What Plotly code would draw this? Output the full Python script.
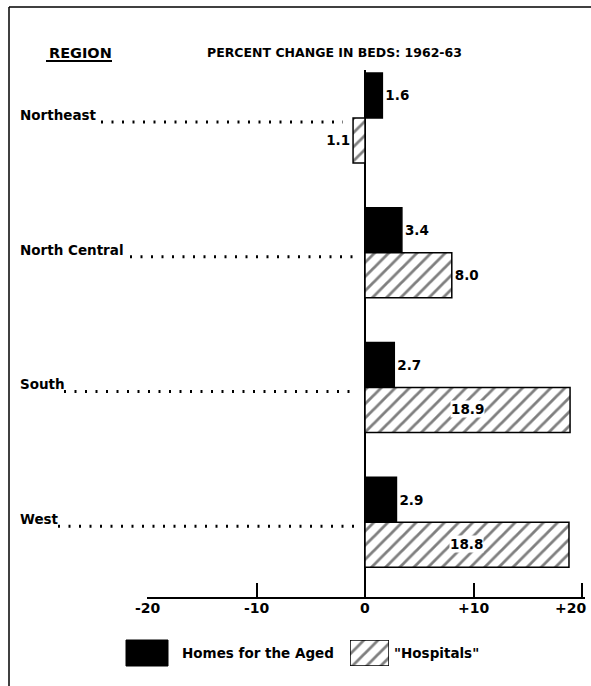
import plotly.graph_objects as go

# ---- data ----
regions = ["Northeast", "North Central", "South", "West"]
homes = [1.6, 3.4, 2.7, 2.9]
hospitals = [-1.1, 8.0, 18.9, 18.8]
tick_vals = [-20, -10, 0, 10, 20]
tick_text = ["-20", "-10", "0", "+10", "+20"]
series_names = ["Homes for the Aged", "\"Hospitals\""]
title_text = "PERCENT CHANGE IN BEDS: 1962-63"
region_header = "REGION"

W, H = 591, 686
FONT = "DejaVu Sans"


def px(x):
    return x / W


def py(y):
    return 1 - y / H


def lab(v):
    return f"{abs(v):.1f}"


def bold(t):
    return f"<b>{t}</b>"


HATCH = dict(shape="/", fgcolor="black", bgcolor="white", size=10, solidity=0.28)

fig = go.Figure()

fig.add_trace(go.Bar(
    y=regions, x=homes, orientation="h", name=series_names[0],
    marker=dict(color="black", line=dict(color="black", width=1.5)),
    text=[bold(lab(v)) for v in homes], textposition="outside",
    textfont=dict(family=FONT, size=13.5, color="black"),
    cliponaxis=False, showlegend=False,
))

inside_thr = 15
fig.add_trace(go.Bar(
    y=regions, x=hospitals, orientation="h", name=series_names[1],
    marker=dict(color="white", line=dict(color="black", width=1.5),
                pattern=HATCH),
    text=[bold(lab(v)) if abs(v) < inside_thr else "" for v in hospitals],
    textposition="outside",
    textfont=dict(family=FONT, size=13.5, color="black"),
    cliponaxis=False, showlegend=False,
))

annotations = []
shapes = []

# inside labels with white background for long hatched bars
for r, v in zip(regions, hospitals):
    if abs(v) >= inside_thr:
        annotations.append(dict(
            x=v / 2, y=r, xref="x", yref="y", text=bold(lab(v)), showarrow=False,
            yshift=-22, bgcolor="white", borderpad=0,
            font=dict(family=FONT, size=13.5, color="black")))

# x tick labels (last one kept inside the page)
for k, (tv, tt) in enumerate(zip(tick_vals, tick_text)):
    last = k == len(tick_vals) - 1
    annotations.append(dict(
        x=tv, y=py(608), xref="x", yref="paper", text=bold(tt),
        showarrow=False, xanchor="right" if last else "center",
        yanchor="middle", xshift=6 if last else 0,
        font=dict(family=FONT, size=14, color="black")))

# region labels with dotted leaders
label_ends = [95, 124, 58, 52]
leader_ends = [343, 355, 355, 355]
for i, r in enumerate(regions):
    annotations.append(dict(
        x=px(18), y=i, xref="paper", yref="y", text=bold(r), showarrow=False,
        xanchor="left", yanchor="middle", yshift=3,
        font=dict(family=FONT, size=13.5, color="black")))
    shapes.append(dict(
        type="line", xref="paper", yref="y",
        x0=px(label_ends[i] + 6), x1=px(leader_ends[i]),
        y0=i + 0.03, y1=i + 0.03,
        line=dict(color="black", width=3, dash="2px,8.5px")))

# headers
annotations.append(dict(
    x=px(47), y=py(53), xref="paper", yref="paper", text=bold(region_header),
    showarrow=False, xanchor="left", yanchor="middle",
    font=dict(family=FONT, size=14.5, color="black")))
shapes.append(dict(type="line", xref="paper", yref="paper",
                   x0=px(46), x1=px(112), y0=py(61), y1=py(61),
                   line=dict(color="black", width=2)))
annotations.append(dict(
    x=px(334), y=py(53), xref="paper", yref="paper", text=bold(title_text),
    showarrow=False, xanchor="center", yanchor="middle",
    font=dict(family=FONT, size=12.5, color="black")))

# frame
shapes.append(dict(type="line", xref="paper", yref="paper",
                   x0=px(9), x1=1, y0=py(7), y1=py(7),
                   line=dict(color="black", width=1.5)))
shapes.append(dict(type="line", xref="paper", yref="paper",
                   x0=px(9), x1=px(9), y0=py(7), y1=0,
                   line=dict(color="black", width=1.5)))

# legend
shapes.append(dict(type="rect", xref="paper", yref="paper",
                   x0=px(126), x1=px(168), y0=py(666), y1=py(640),
                   fillcolor="black", line=dict(color="black", width=1)))
fig.add_trace(go.Bar(
    x=[1], y=[0.5], orientation="h", width=1, base=0,
    xaxis="x2", yaxis="y2", showlegend=False, hoverinfo="skip",
    marker=dict(color="white", line=dict(color="black", width=1.5),
                pattern=HATCH),
))
annotations.append(dict(
    x=px(180), y=py(653), xref="paper", yref="paper", text=bold(series_names[0]),
    showarrow=False, xanchor="left", yanchor="middle",
    font=dict(family=FONT, size=13.5, color="black")))
annotations.append(dict(
    x=px(392), y=py(653), xref="paper", yref="paper", text=bold(series_names[1]),
    showarrow=False, xanchor="left", yanchor="middle",
    font=dict(family=FONT, size=13.5, color="black")))

fig.update_layout(
    width=W, height=H, autosize=False,
    margin=dict(l=0, r=0, t=0, b=0, pad=0, autoexpand=False),
    paper_bgcolor="white", plot_bgcolor="white",
    barmode="group", bargap=0.332, bargroupgap=0,
    showlegend=False,
    xaxis=dict(domain=[px(147.46), px(585.25)], range=[-20.05, 20.3],
               tickvals=tick_vals, showticklabels=False,
               ticks="inside", ticklen=14, tickwidth=1.5, tickcolor="black",
               showline=True, linecolor="black", linewidth=1.5,
               showgrid=False, zeroline=True, zerolinecolor="black",
               zerolinewidth=1.5, automargin=False),
    yaxis=dict(domain=[py(597), py(70)], range=[3.555, -0.356],
               showticklabels=False, showgrid=False, zeroline=False,
               showline=False, ticks="", automargin=False),
    xaxis2=dict(domain=[px(350), px(389)], range=[0, 1], visible=False,
                anchor="y2", automargin=False),
    yaxis2=dict(domain=[py(666), py(640)], range=[0, 1], visible=False,
                anchor="x2", automargin=False),
    annotations=annotations,
    shapes=shapes,
)

post = ("document.documentElement.style.margin='0';"
        "document.body.style.margin='0';"
        "document.body.style.padding='0';"
        "document.documentElement.style.overflow='hidden';"
        "document.body.style.overflow='hidden';")
fig.write_html("out.html", post_script=post,
               config={"displayModeBar": False})
